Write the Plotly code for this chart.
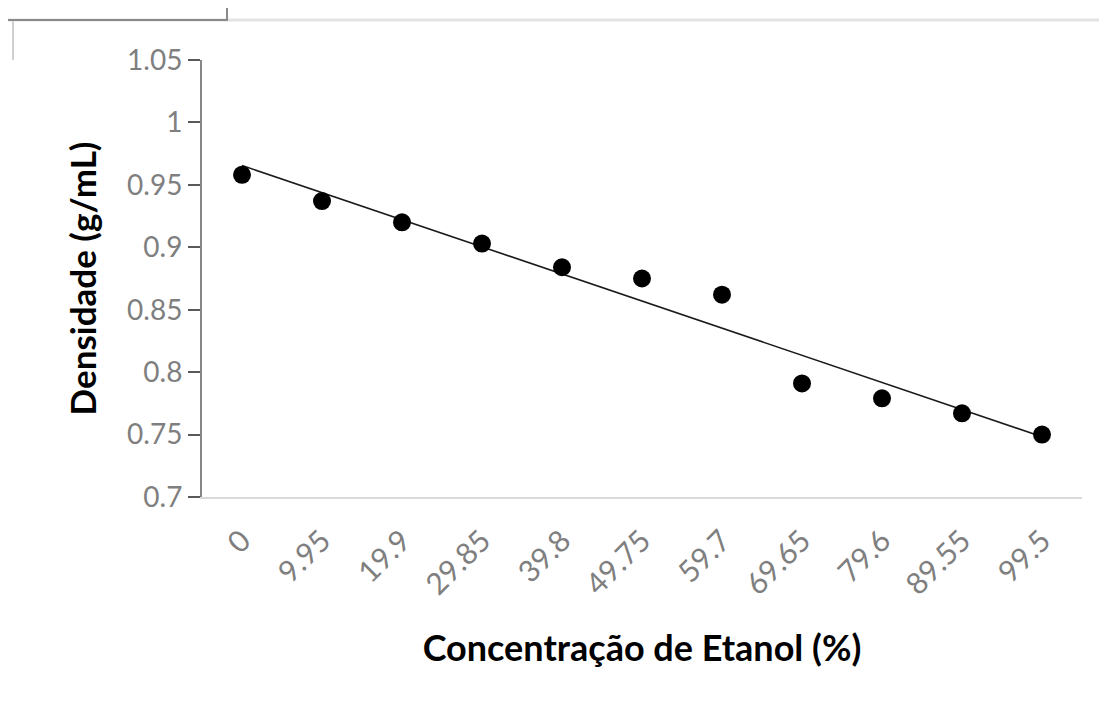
import numpy as np
import plotly.graph_objects as go

categories = ["0", "9.95", "19.9", "29.85", "39.8", "49.75", "59.7", "69.65", "79.6", "89.55", "99.5"]
densidade = [0.958, 0.937, 0.920, 0.903, 0.884, 0.875, 0.862, 0.791, 0.779, 0.767, 0.750]
y_ticks = [0.7, 0.75, 0.8, 0.85, 0.9, 0.95, 1.0, 1.05]
y_ticklabels = ["0.7", "0.75", "0.8", "0.85", "0.9", "0.95", "1", "1.05"]

# linear trendline (Excel-style) fitted on category index
idx = np.arange(len(categories))
slope, intercept = np.polyfit(idx, densidade, 1)
trend = slope * idx + intercept

OFF = 8  # page body margin
W, H = 1107 - OFF, 702 - OFF
L, R, T, B = 202 - OFF, 1082 - OFF, 60 - OFF, 497 - OFF

def px(x):
    return (x - OFF - L) / (R - L)

def py(y):
    return (B - (y - OFF)) / (B - T)

FONT = "Lato"

fig = go.Figure()
fig.add_trace(go.Scatter(x=categories, y=trend, mode="lines",
                         line=dict(color="#1a1a1a", width=1.6), showlegend=False, hoverinfo="skip"))
fig.add_trace(go.Scatter(x=categories, y=densidade, mode="markers",
                         marker=dict(color="black", size=18), showlegend=False))

fig.update_layout(
    width=W, height=H,
    margin=dict(l=L, r=W - R, t=T, b=H - B),
    paper_bgcolor="white", plot_bgcolor="white",
    font=dict(family=FONT),
    xaxis=dict(
        type="category", range=[-0.5, 10.5],
        showline=True, linecolor="#d9d9d9", linewidth=2,
        ticks="", showgrid=False, zeroline=False,
        tickangle=-45, tickfont=dict(size=30, color="#7f7f7f", family=FONT),
        ticklabelstandoff=12,
        title=dict(text="<b>Concentração de Etanol (%)</b>", font=dict(size=36, color="black", family=FONT), standoff=36),
    ),
    yaxis=dict(
        range=[0.7, 1.05], tickvals=y_ticks, ticktext=y_ticklabels,
        showline=True, linecolor="#868686", linewidth=2,
        ticks="outside", ticklen=12, tickwidth=2, tickcolor="#595959",
        showgrid=False, zeroline=False,
        tickfont=dict(size=28, color="#7f7f7f", family=FONT),
        title=dict(text="<b>Densidade (g/mL)</b>", font=dict(size=35, color="black", family=FONT), standoff=20),
    ),
    shapes=[
        dict(type="line", xref="paper", yref="paper", x0=px(8), x1=px(1107), y0=py(20), y1=py(20),
             line=dict(color="#e3e3e3", width=3)),
        dict(type="line", xref="paper", yref="paper", x0=px(8), x1=px(228), y0=py(20), y1=py(20),
             line=dict(color="#8a8a8a", width=2)),
        dict(type="line", xref="paper", yref="paper", x0=px(227), x1=px(227), y0=py(8), y1=py(20),
             line=dict(color="#8a8a8a", width=2)),
        dict(type="line", xref="paper", yref="paper", x0=px(13), x1=px(13), y0=py(21), y1=py(60),
             line=dict(color="#d0d0d0", width=2)),
    ],
)

fig.write_html("out.html")
